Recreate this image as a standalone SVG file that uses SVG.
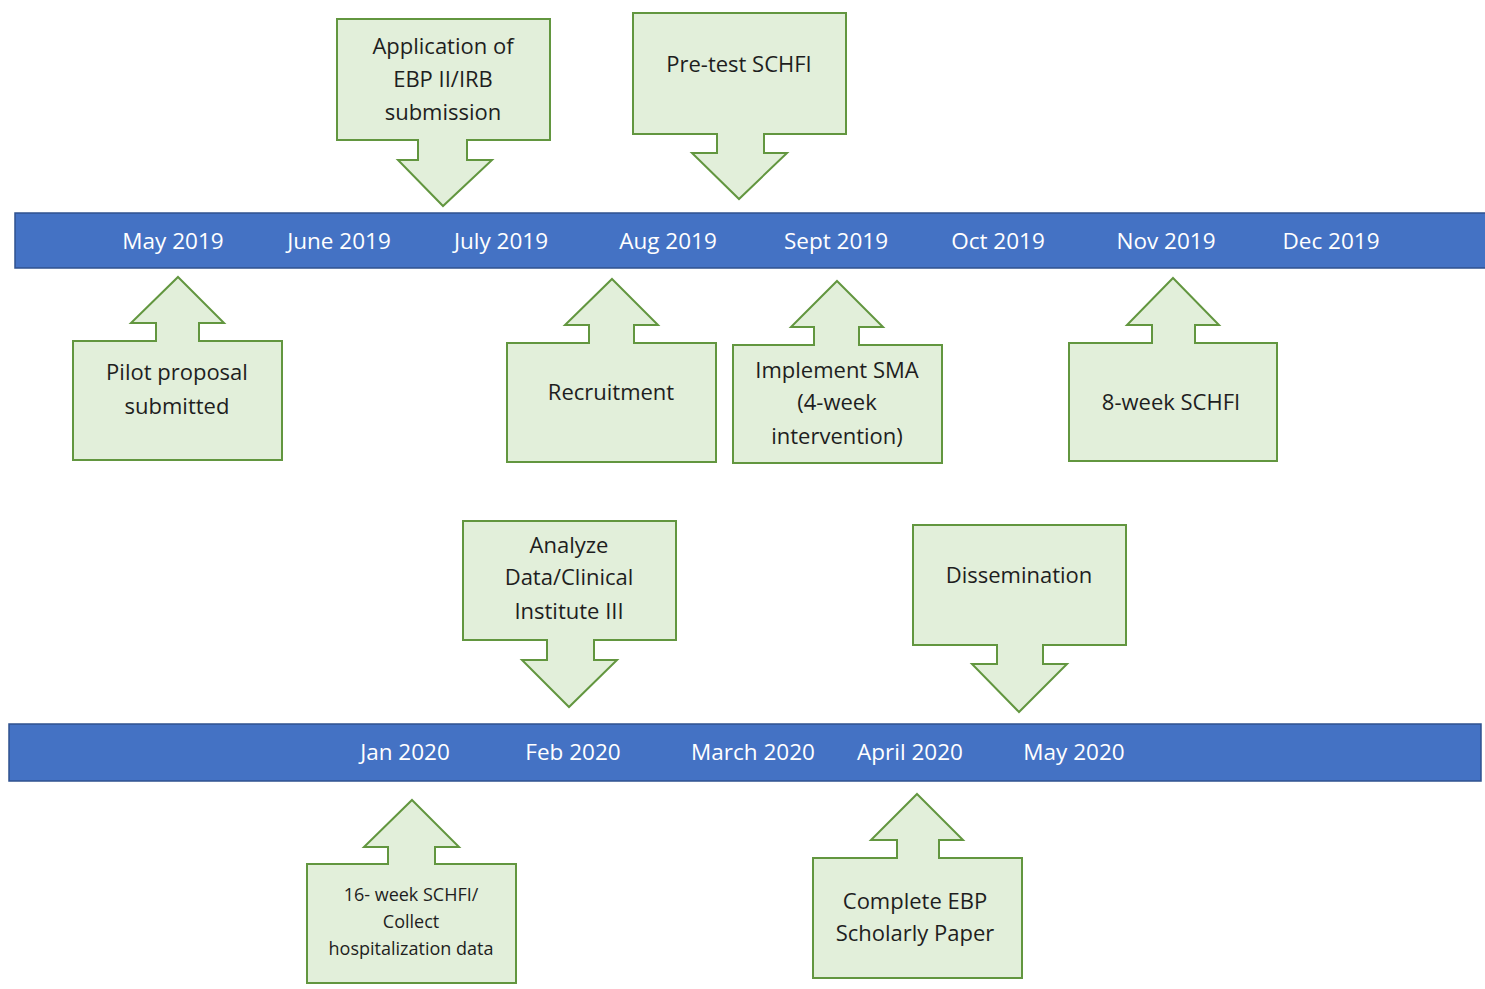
<svg xmlns="http://www.w3.org/2000/svg" width="1485" height="989" viewBox="0 0 1485 989">
<style>
.bar{fill:#4472C4;stroke:#2F528F;stroke-width:1.5}
.bl{font-family:"Open Sans","Noto Sans",sans-serif;font-size:22.5px;fill:#FFFFFF;text-anchor:middle}
.co{fill:#E2EFDA;stroke:#62963F;stroke-width:2;stroke-linejoin:miter}
.t{font-family:"Open Sans","Noto Sans",sans-serif;font-size:22px;fill:#1E1E1E;text-anchor:middle}
.ts{font-family:"Open Sans","Noto Sans",sans-serif;font-size:18px;fill:#1E1E1E;text-anchor:middle}
</style>
<rect width="1485" height="989" fill="#FFFFFF"/>
<g id="timelines">
<rect class="bar" x="15" y="213" width="1475" height="55"/>
<rect class="bar" x="9" y="724" width="1472" height="57"/>
<text class="bl" x="173" y="249">May 2019</text>
<text class="bl" x="339" y="249">June 2019</text>
<text class="bl" x="501" y="249">July 2019</text>
<text class="bl" x="668" y="249">Aug 2019</text>
<text class="bl" x="836" y="249">Sept 2019</text>
<text class="bl" x="998" y="249">Oct 2019</text>
<text class="bl" x="1166" y="249">Nov 2019</text>
<text class="bl" x="1331" y="249">Dec 2019</text>
<text class="bl" x="405" y="760">Jan 2020</text>
<text class="bl" x="573" y="760">Feb 2020</text>
<text class="bl" x="753" y="760">March 2020</text>
<text class="bl" x="910" y="760">April 2020</text>
<text class="bl" x="1074" y="760">May 2020</text>
</g>
<g id="connectors"></g>
<g id="n1">
<path class="co" d="M337 19 H550 V140 H467 V160 H492 L443 206 L398 160 H418 V140 H337 Z"/>
<text class="t" x="443" y="54">Application of</text>
<text class="t" x="443" y="87">EBP II/IRB</text>
<text class="t" x="443" y="120">submission</text>
</g>
<g id="n2">
<path class="co" d="M633 13 H846 V134 H764 V153 H787 L739 199 L692 153 H717 V134 H633 Z"/>
<text class="t" x="739" y="72">Pre-test SCHFI</text>
</g>
<g id="n3">
<path class="co" d="M178 277 L224 323 H199 V341 H282 V460 H73 V341 H156 V323 H131 Z"/>
<text class="t" x="177" y="380">Pilot proposal</text>
<text class="t" x="177" y="414">submitted</text>
</g>
<g id="n4">
<path class="co" d="M612 279 L658 325 H634 V343 H716 V462 H507 V343 H589 V325 H565 Z"/>
<text class="t" x="611" y="400">Recruitment</text>
</g>
<g id="n5">
<path class="co" d="M837 281 L883 327 H859 V345 H942 V463 H733 V345 H814 V327 H791 Z"/>
<text class="t" x="837" y="378">Implement SMA</text>
<text class="t" x="837" y="410">(4-week</text>
<text class="t" x="837" y="444">intervention)</text>
</g>
<g id="n6">
<path class="co" d="M1173 278 L1219 325 H1195 V343 H1277 V461 H1069 V343 H1152 V325 H1127 Z"/>
<text class="t" x="1171" y="410">8-week SCHFI</text>
</g>
<g id="n7">
<path class="co" d="M463 521 H676 V640 H594 V660 H617 L569 707 L522 660 H547 V640 H463 Z"/>
<text class="t" x="569" y="553">Analyze</text>
<text class="t" x="569" y="585">Data/Clinical</text>
<text class="t" x="569" y="619">Institute III</text>
</g>
<g id="n8">
<path class="co" d="M913 525 H1126 V645 H1043 V664 H1067 L1019 712 L972 664 H997 V645 H913 Z"/>
<text class="t" x="1019" y="583">Dissemination</text>
</g>
<g id="n9">
<path class="co" d="M412 800 L459 847 H435 V864 H516 V983 H307 V864 H388 V847 H364 Z"/>
<text class="ts" x="411" y="901">16- week SCHFI/</text>
<text class="ts" x="411" y="928">Collect</text>
<text class="ts" x="411" y="955">hospitalization data</text>
</g>
<g id="n10">
<path class="co" d="M917 794 L963 840 H939 V858 H1022 V978 H813 V858 H897 V840 H871 Z"/>
<text class="t" x="915" y="909">Complete EBP</text>
<text class="t" x="915" y="941">Scholarly Paper</text>
</g>
</svg>
